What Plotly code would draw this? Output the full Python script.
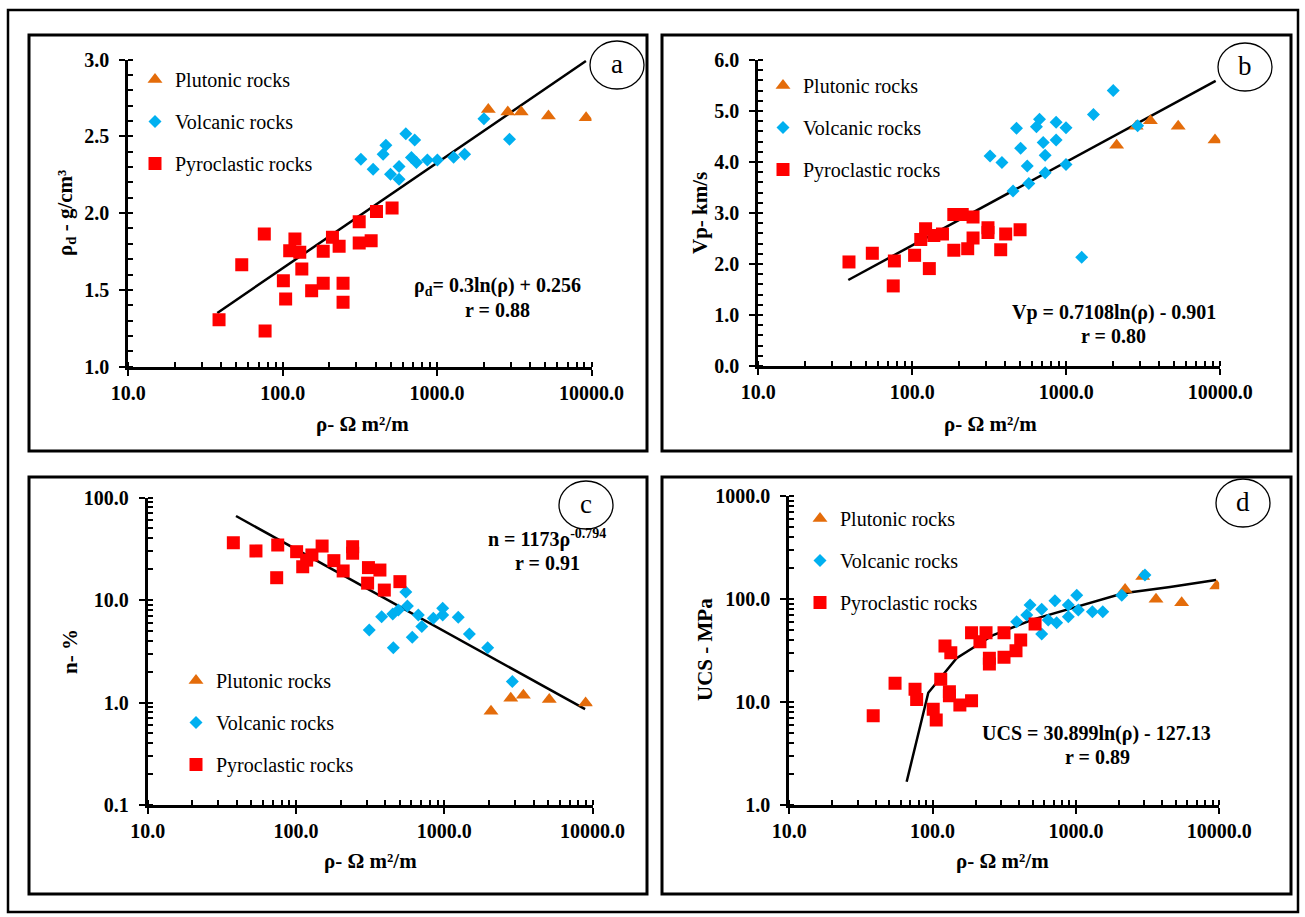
import plotly.graph_objects as go

W, H = 1305, 917

# ---------------- data ----------------
# Panel a: dry density vs resistivity
a_plut_x = [2146, 2870, 3505, 5262, 9226]
a_plut_y = [2.675, 2.658, 2.658, 2.632, 2.62]
a_vol_x = [321, 385, 466, 447, 627, 716, 499, 567, 567, 682, 735, 865, 1004, 1280, 1507, 2010, 2944]
a_vol_y = [2.351, 2.286, 2.442, 2.383, 2.517, 2.476, 2.253, 2.303, 2.221, 2.362, 2.329, 2.346, 2.346, 2.364, 2.383, 2.615, 2.48]
a_pyro_x = [38.7, 76.9, 76, 54.3, 120, 111, 129, 133, 101, 104.5, 154, 183, 246, 246, 183, 210, 232, 313, 313, 374, 405, 511]
a_pyro_y = [1.305, 1.232, 1.864, 1.664, 1.831, 1.755, 1.745, 1.636, 1.56, 1.44, 1.494, 1.544, 1.544, 1.42, 1.751, 1.842, 1.784, 1.944, 1.805, 1.82, 2.011, 2.034]
a_fit_x = [37.7, 9200]
a_fit_y = [1.35, 2.99]

# Panel b: P-wave velocity vs resistivity
b_plut_x = [2123, 2844, 3516, 5328, 9240]
b_plut_y = [4.33, 4.70, 4.81, 4.70, 4.43]
b_vol_x = [2017, 1500, 670, 859, 996, 640, 475, 708, 859, 505, 320, 382, 729, 558, 996, 729, 571, 451, 1259, 2905]
b_vol_y = [5.40, 4.93, 4.84, 4.78, 4.67, 4.69, 4.66, 4.38, 4.43, 4.27, 4.12, 3.99, 4.13, 3.92, 3.95, 3.79, 3.58, 3.43, 2.13, 4.71]
b_pyro_x = [38.8, 55, 76.5, 75.2, 103.5, 129, 113.5, 122, 138, 157, 186, 211, 248, 186, 229, 248, 310, 310, 404, 375, 501]
b_pyro_y = [2.04, 2.21, 2.06, 1.57, 2.17, 1.91, 2.48, 2.69, 2.56, 2.59, 2.97, 2.97, 2.92, 2.27, 2.30, 2.51, 2.71, 2.62, 2.59, 2.28, 2.67]
b_fit_x = [38.4, 9330]
b_fit_y = [1.686, 5.59]

# Panel c: porosity vs resistivity
c_plut_x = [2065, 2807, 3414, 5104, 8970]
c_plut_y = [0.82, 1.10, 1.18, 1.07, 0.99]
c_vol_x = [550, 564, 378, 449, 490, 312, 453, 608, 668, 705, 843, 975, 975, 1242, 1476, 1962, 2876]
c_vol_y = [12.0, 8.73, 6.87, 7.3, 7.98, 5.09, 3.43, 4.33, 7.14, 5.5, 6.62, 8.3, 7.14, 6.78, 4.66, 3.43, 1.6]
c_pyro_x = [37.8, 53.7, 75.3, 74.1, 101, 111, 128, 118, 150, 180, 208, 241, 241, 308, 368, 304, 394, 502]
c_pyro_y = [36.2, 30.1, 34.4, 16.5, 29.6, 21.1, 27.5, 24.5, 33.6, 24.2, 19.2, 33.1, 28.6, 20.7, 19.6, 14.6, 12.5, 15.1]
c_fit_x = [39.4, 8900]
c_fit_y = [66, 0.86]

# Panel d: UCS vs resistivity
d_plut_x = [2204, 2925, 3623, 5470, 9610]
d_plut_y = [124, 165, 99.3, 92.1, 134]
d_vol_x = [386, 454, 479, 577, 577, 641, 734, 714, 885, 885, 1014, 1040, 1303, 1540, 2090, 3033]
d_vol_y = [60.2, 70, 87.5, 79.5, 45.7, 62.5, 58.9, 96.2, 87.5, 67.3, 109, 78.2, 75.3, 75.3, 109, 171]
d_pyro_x = [38.5, 54.7, 75.4, 77.4, 101, 106, 114, 122, 134, 131, 131, 155, 187, 187, 236, 214, 249, 249, 315, 315, 382, 412, 519]
d_pyro_y = [7.36, 15.2, 13.3, 10.6, 8.5, 6.7, 16.6, 35, 30.1, 12.6, 11.5, 9.35, 10.3, 47.1, 47.1, 38.5, 26.6, 23.4, 47.1, 27.2, 31.5, 40, 57.2]
d_fit_x = [65.9, 93.3, 147, 265, 505, 1325, 2140, 4540, 9500]
d_fit_y = [1.68, 12.3, 26.6, 44.7, 63.5, 94, 113.6, 131, 153]

series_names = ["Plutonic rocks", "Volcanic rocks", "Pyroclastic rocks"]
x_ticks = [10, 100, 1000, 10000]
x_ticktext = ["10.0", "100.0", "1000.0", "10000.0"]
a_ticks = [1.0, 1.5, 2.0, 2.5, 3.0]
a_ticktext = ["1.0", "1.5", "2.0", "2.5", "3.0"]
b_ticks = [0, 1, 2, 3, 4, 5, 6]
b_ticktext = ["0.0", "1.0", "2.0", "3.0", "4.0", "5.0", "6.0"]
c_ticks = [0.1, 1, 10, 100]
c_ticktext = ["0.1", "1.0", "10.0", "100.0"]
d_ticks = [1, 10, 100, 1000]
d_ticktext = ["1.0", "10.0", "100.0", "1000.0"]

# ---------------- styling ----------------
SERIF = "Liberation Serif, Times New Roman, serif"
ORANGE = "#E46C0A"
BLUE = "#00B0F0"
RED = "#FF0000"
sym_style = [("triangle-up", ORANGE, 13), ("diamond", BLUE, 10), ("square", RED, 13)]


def X(px):
    return px / W


def Y(py):
    return 1 - py / H


def log_minor(lo, hi):
    vals = []
    d = lo
    while d < hi:
        for k in range(1, 10):
            vals.append(d * k)
        d *= 10
    vals.append(hi)
    return vals


fig = go.Figure()

panels = [
    ("a", "x", "y", "legend", [(a_plut_x, a_plut_y), (a_vol_x, a_vol_y), (a_pyro_x, a_pyro_y)], (a_fit_x, a_fit_y)),
    ("b", "x2", "y2", "legend2", [(b_plut_x, b_plut_y), (b_vol_x, b_vol_y), (b_pyro_x, b_pyro_y)], (b_fit_x, b_fit_y)),
    ("c", "x3", "y3", "legend3", [(c_plut_x, c_plut_y), (c_vol_x, c_vol_y), (c_pyro_x, c_pyro_y)], (c_fit_x, c_fit_y)),
    ("d", "x4", "y4", "legend4", [(d_plut_x, d_plut_y), (d_vol_x, d_vol_y), (d_pyro_x, d_pyro_y)], (d_fit_x, d_fit_y)),
]

for name, xa, ya, lg, data, fit in panels:
    fig.add_trace(go.Scatter(x=fit[0], y=fit[1], mode="lines", xaxis=xa, yaxis=ya,
                             line=dict(color="black", width=2.5), showlegend=False,
                             hoverinfo="skip"))
    for i, ((xs, ys), sname) in enumerate(zip(data, series_names)):
        sym, col, size = sym_style[i]
        fig.add_trace(go.Scatter(x=xs, y=ys, mode="markers", name=sname, xaxis=xa, yaxis=ya,
                                 legend=lg, legendgroup=f"{name}{i}",
                                 marker=dict(symbol=sym, color=col, size=size, line=dict(width=0))))

tickfont = dict(family=SERIF, size=20, color="black", weight="bold")


def xaxis_cfg(x0, x1):
    return dict(type="log", range=[1, 4], domain=[X(x0), X(x1)],
                tickmode="array", tickvals=x_ticks, ticktext=x_ticktext,
                ticks="outside", ticklen=6, tickwidth=2, tickcolor="black",
                showline=True, linewidth=3, linecolor="black", showgrid=False, zeroline=False,
                tickfont=tickfont, automargin=False,
                minor=dict(tickmode="array", tickvals=log_minor(10, 10000), ticks="inside",
                           ticklen=5, tickwidth=2, tickcolor="black", showgrid=False),
                fixedrange=True)


def yaxis_common(tv, tt, ytop, ybot, minor_vals):
    return dict(domain=[Y(ybot), Y(ytop)], tickmode="array", tickvals=tv, ticktext=tt,
                ticks="outside", ticklen=6, tickwidth=2, tickcolor="black",
                showline=True, linewidth=3, linecolor="black", showgrid=False, zeroline=False,
                tickfont=tickfont, automargin=False, ticklabelstandoff=6,
                minor=dict(tickmode="array", tickvals=minor_vals, ticks="inside",
                           ticklen=5, tickwidth=2, tickcolor="black", showgrid=False),
                fixedrange=True)


def yaxis_lin(rng, tv, tt, minor_vals, ytop, ybot):
    cfg = yaxis_common(tv, tt, ytop, ybot, minor_vals)
    cfg["range"] = rng
    return cfg


def yaxis_log(rng, tv, tt, lo, hi, ytop, ybot):
    cfg = yaxis_common(tv, tt, ytop, ybot, log_minor(lo, hi))
    cfg["type"] = "log"
    cfg["range"] = rng
    return cfg


a_minor = [round(1.0 + 0.1 * k, 2) for k in range(21)]
b_minor = [round(0.2 * k, 2) for k in range(31)]

layout = dict(
    width=W, height=H, margin=dict(l=0, r=0, t=0, b=0, pad=0, autoexpand=False),
    paper_bgcolor="white", plot_bgcolor="rgba(0,0,0,0)", showlegend=True,
    xaxis=dict(xaxis_cfg(128.3, 591.5), anchor="y"),
    yaxis=dict(yaxis_lin([1, 3], a_ticks, a_ticktext, a_minor, 59.5, 366.7), anchor="x"),
    xaxis2=dict(xaxis_cfg(758.3, 1220.3), anchor="y2"),
    yaxis2=dict(yaxis_lin([0, 6], b_ticks, b_ticktext, b_minor, 60, 366), anchor="x2"),
    xaxis3=dict(xaxis_cfg(147.7, 592.6), anchor="y3"),
    yaxis3=dict(yaxis_log([-1, 2], c_ticks, c_ticktext, 0.1, 100, 497.5, 805), anchor="x3"),
    xaxis4=dict(xaxis_cfg(789.3, 1219.2), anchor="y4"),
    yaxis4=dict(yaxis_log([0, 3], d_ticks, d_ticktext, 1, 1000, 496, 805), anchor="x4"),
)

legfont = dict(family=SERIF, size=20, color="black")


def legend_cfg(text_x, row1_y):
    return dict(x=X(text_x - 37), y=Y(row1_y - 20), xanchor="left", yanchor="top",
                bgcolor="rgba(0,0,0,0)", borderwidth=0, font=legfont,
                tracegroupgap=13, itemwidth=30, traceorder="grouped")


layout["legend"] = legend_cfg(172, 80)
layout["legend2"] = legend_cfg(800, 86)
layout["legend3"] = legend_cfg(213, 681)
layout["legend4"] = legend_cfg(837, 519)

fig.update_layout(**layout)

# ---------------- frames and panel letters ----------------
shapes = [
    dict(type="rect", xref="paper", yref="paper", x0=X(8), x1=X(1298), y0=Y(912), y1=Y(10),
         line=dict(color="black", width=2.5)),
]
for (l, t, r, b) in [(29, 35, 647, 451), (662, 35, 1291, 451), (29, 477, 647, 894), (662, 477, 1291, 894)]:
    shapes.append(dict(type="rect", xref="paper", yref="paper", x0=X(l), x1=X(r), y0=Y(b), y1=Y(t),
                       line=dict(color="black", width=3)))

circles = [("a", 617, 65), ("b", 1245, 67), ("c", 586, 505), ("d", 1243, 503)]
annotations = []
for letter, cx, cy in circles:
    shapes.append(dict(type="circle", xref="paper", yref="paper", x0=X(cx - 27), x1=X(cx + 27),
                       y0=Y(cy + 24), y1=Y(cy - 24), line=dict(color="black", width=1.3)))
    annotations.append(dict(text=letter, x=X(cx), y=Y(cy - 1), xref="paper", yref="paper",
                            xanchor="center", yanchor="middle",
                            showarrow=False, font=dict(family=SERIF, size=27, color="black")))

boldfont = dict(family=SERIF, size=20, color="black", weight="bold")
titlefont = dict(family=SERIF, size=21, color="black", weight="bold")


def note(text, cx, cy, font=boldfont, angle=0):
    annotations.append(dict(text=text, x=X(cx), y=Y(cy), xref="paper", yref="paper",
                            showarrow=False, font=font, textangle=angle,
                            xanchor="center", yanchor="middle"))


# equations
note("ρ<sub>d</sub>= 0.3ln(ρ) + 0.256", 497, 287)
note("r = 0.88", 497, 310)
note("Vp = 0.7108ln(ρ) - 0.901", 1114, 312)
note("r = 0.80", 1113, 336)
note("n = 1173ρ<sup>-0.794</sup>", 547, 538)
note("r = 0.91", 547, 563)
note("UCS = 30.899ln(ρ) - 127.13", 1096, 733)
note("r = 0.89", 1097, 757)

# axis titles
xt = "ρ- Ω m²/m"
note(xt, 362, 424, titlefont)
note(xt, 990, 424, titlefont)
note(xt, 370, 861, titlefont)
note(xt, 1002, 861, titlefont)
note("ρ<sub>d</sub> - g/cm³", 66, 213, titlefont, -90)
note("Vp- km/s", 700, 213, titlefont, -90)
note("n- %", 70, 652, titlefont, -90)
note("UCS - MPa", 705, 650, titlefont, -90)

fig.update_layout(shapes=shapes, annotations=annotations)

fig.write_html("out.html", config={"displayModeBar": False},
               post_script="document.body.style.margin='0';document.body.style.overflow='hidden';")
